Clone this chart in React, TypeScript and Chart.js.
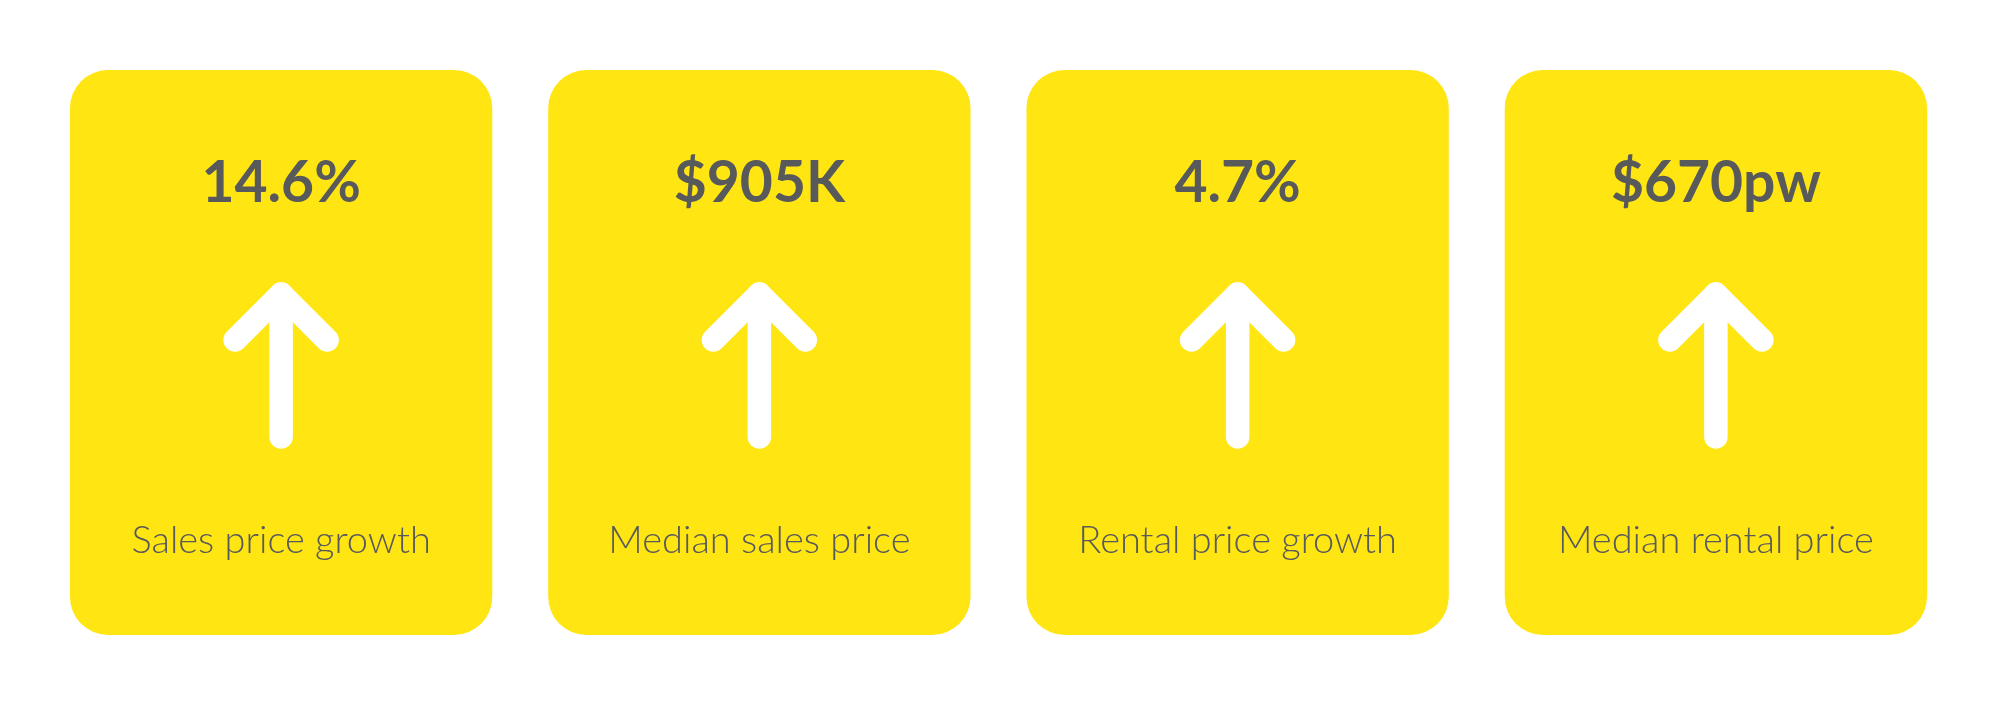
import React, { useEffect, useRef } from "react";
import { Chart, registerables } from "chart.js";

Chart.register(...registerables);

const categories = ["Sales price growth", "Median sales price", "Rental price growth", "Median rental price"];
const headlineValues = ["14.6%", "$905K", "4.7%", "$670pw"];
const trendDirections = ["up", "up", "up", "up"];
const cardHeights = [1, 1, 1, 1];

const YELLOW = "#FFE512";
const GREY = "#58595B";

const cardPlugin = {
  id: "cardContent",
  afterDatasetsDraw(chart: any) {
    const ctx = chart.ctx as CanvasRenderingContext2D;
    const meta = chart.getDatasetMeta(0);
    meta.data.forEach((bar: any, i: number) => {
      const cx = bar.x;
      const top = bar.y;
      ctx.save();
      ctx.fillStyle = GREY;
      ctx.textAlign = "center";
      ctx.textBaseline = "alphabetic";
      ctx.font = "bold 57px Lato, 'Open Sans', sans-serif";
      ctx.fillText(headlineValues[i], cx, top + 132);

      // arrow
      const up = trendDirections[i] === "up";
      const tipY = up ? top + 224 : top + 367;
      const endY = up ? top + 367 : top + 224;
      const wingDy = up ? 46 : -46;
      ctx.strokeStyle = "#FFFFFF";
      ctx.lineWidth = 23.5;
      ctx.lineCap = "round";
      ctx.lineJoin = "round";
      ctx.beginPath();
      ctx.moveTo(cx - 46, tipY + wingDy);
      ctx.lineTo(cx, tipY);
      ctx.lineTo(cx + 46, tipY + wingDy);
      ctx.stroke();
      ctx.beginPath();
      ctx.moveTo(cx, tipY);
      ctx.lineTo(cx, endY);
      ctx.stroke();

      ctx.fillStyle = GREY;
      ctx.font = "300 38px Lato, 'Open Sans', sans-serif";
      ctx.fillText(categories[i], cx, top + 483);
      ctx.restore();
    });
  },
};

export default function App() {
  const ref = useRef<HTMLCanvasElement>(null);
  useEffect(() => {
    document.body.style.margin = "0";
    const chart = new Chart(ref.current!, {
      type: "bar",
      data: {
        labels: categories,
        datasets: [
          {
            data: cardHeights,
            backgroundColor: YELLOW,
            borderRadius: 38,
            borderSkipped: false,
            barPercentage: 0.883,
            categoryPercentage: 1,
          },
        ],
      },
      options: {
        animation: false,
        responsive: false,
        devicePixelRatio: 1,
        layout: { padding: { left: 42, right: 45, top: 70, bottom: 72 } },
        plugins: { legend: { display: false }, tooltip: { enabled: false }, title: { display: false } },
        scales: {
          x: { display: false },
          y: { display: false, min: 0, max: 1 },
        },
      },
      plugins: [cardPlugin],
    });
    return () => chart.destroy();
  }, []);
  return (
    <div style={{ position: "fixed", left: 0, top: 0, width: 2000, height: 707, background: "#fff" }}>
      <canvas ref={ref} width={2000} height={707} style={{ width: 2000, height: 707 }} />
    </div>
  );
}
